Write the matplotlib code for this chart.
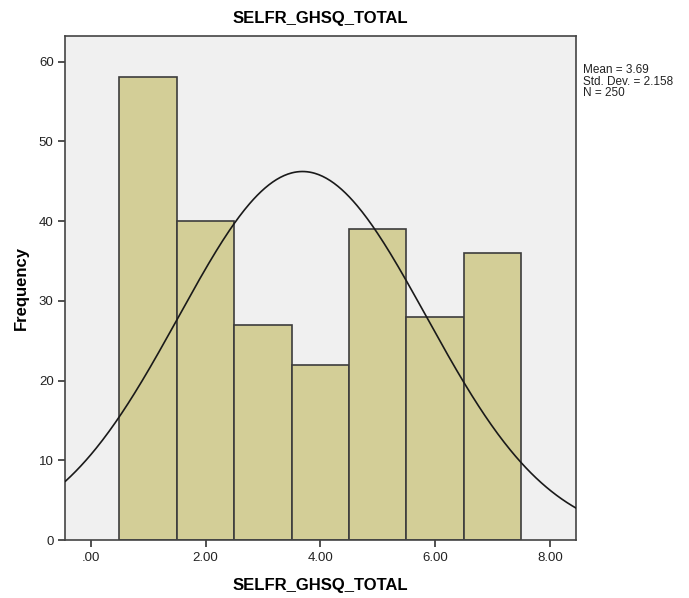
import matplotlib.pyplot as plt
import numpy as np

plt.rcParams['font.family'] = ['Liberation Sans', 'DejaVu Sans']

# histogram data (bin centres, counts)
bin_centers = [1, 2, 3, 4, 5, 6, 7]
counts = [58, 40, 27, 22, 39, 28, 36]
mean = 3.69
std = 2.158
n = 250
xticks = [0, 2, 4, 6, 8]
xticklabels = ['.00', '2.00', '4.00', '6.00', '8.00']
yticks = [0, 10, 20, 30, 40, 50, 60]

fig = plt.figure(figsize=(6.89, 5.98), dpi=100)
ax = fig.add_axes([0.095, 0.0965, 0.7406, 0.8433])
ax.set_facecolor('#f0f0f0')

ax.bar(bin_centers, counts, width=1.0, color='#d3ce97', edgecolor='#3c3c3c', linewidth=1.2, zorder=2)

# normal curve scaled to counts (bin width 1)
xs = np.linspace(-0.44, 8.45, 400)
ys = n * 1.0 / (std * np.sqrt(2 * np.pi)) * np.exp(-0.5 * ((xs - mean) / std) ** 2)
ax.plot(xs, ys, color='#1a1a1a', linewidth=1.2, zorder=3)

ax.set_xlim(-0.44, 8.45)
ax.set_ylim(0, 63.2)
ax.set_xticks(xticks)
ax.set_xticklabels(xticklabels)
ax.set_yticks(yticks)
ax.tick_params(direction='out', length=5, width=1.2, color='#333333', labelsize=9.5, labelcolor='#222222')
for s in ax.spines.values():
    s.set_color('#444444')
    s.set_linewidth(1.2)

ax.set_title('SELFR_GHSQ_TOTAL', fontsize=12, fontweight='bold', pad=9)
ax.set_xlabel('SELFR_GHSQ_TOTAL', fontsize=12, fontweight='bold', labelpad=10)
ax.set_ylabel('Frequency', fontsize=12, fontweight='bold', labelpad=7)

fig.text(583 / 689, 1 - 64 / 598, 'Mean = 3.69\nStd. Dev. = 2.158\nN = 250',
         fontsize=8.5, va='top', ha='left', linespacing=0.95, color='#222222')

fig.savefig('out.png', dpi=100)
